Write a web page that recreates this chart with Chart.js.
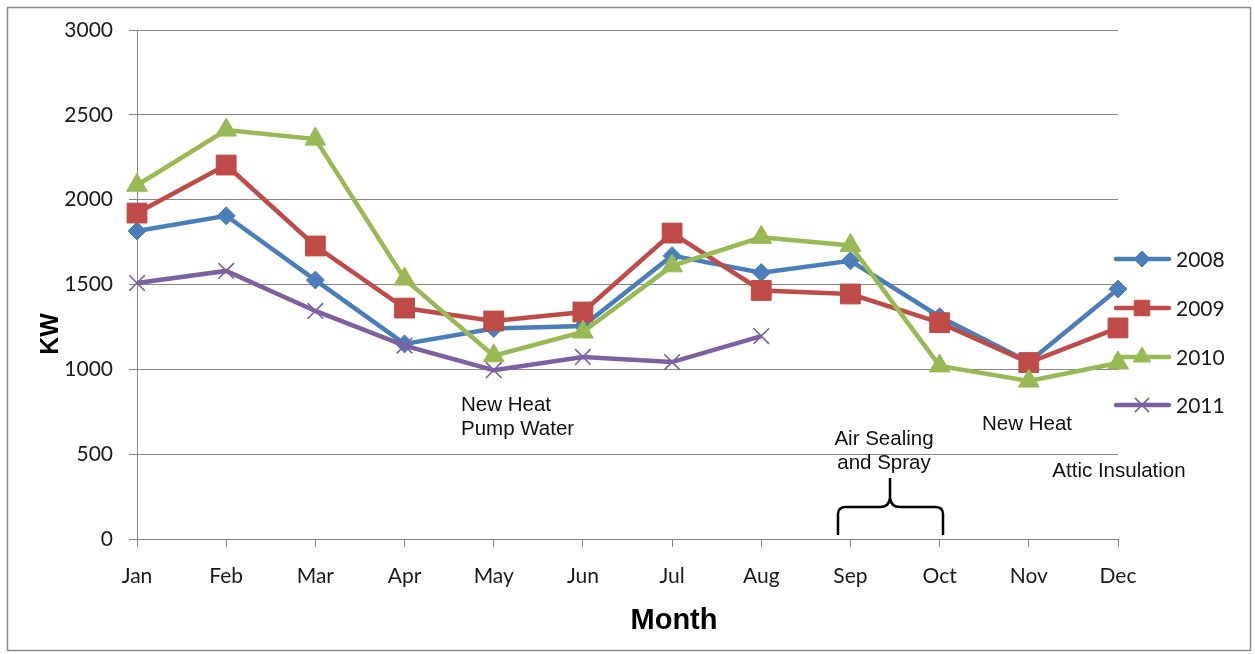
<!DOCTYPE html>
<html>
<head>
<meta charset="utf-8">
<script src="https://cdn.jsdelivr.net/npm/chart.js@4/dist/chart.umd.min.js"></script>
<style>
html,body{margin:0;padding:0;background:#fff;}
canvas{display:block;}
</style>
</head>
<body>
<canvas id="c" width="1255" height="654"></canvas>
<script>
const months = ['Jan','Feb','Mar','Apr','May','Jun','Jul','Aug','Sep','Oct','Nov','Dec'];
const seriesNames = ['2008','2009','2010','2011'];
const kw2008 = [1815, 1905, 1526, 1150, 1240, 1255, 1670, 1570, 1640, 1310, 1043, 1473];
const kw2009 = [1921, 2204, 1727, 1361, 1285, 1338, 1803, 1465, 1444, 1275, 1040, 1244];
const kw2010 = [2085, 2410, 2357, 1532, 1080, 1220, 1610, 1778, 1730, 1020, 931, 1037];
const kw2011 = [1509, 1580, 1344, 1140, 995, 1073, 1043, 1196, null, null, null, null];
const yTicks = [0, 500, 1000, 1500, 2000, 2500, 3000];
const notes = [
  {lines: ['New Heat', 'Pump Water'], x: 461, y: 405, align: 'left'},
  {lines: ['Air Sealing', 'and Spray'], x: 884, y: 439, align: 'center'},
  {lines: ['New Heat'], x: 1027, y: 424, align: 'center'},
  {lines: ['Attic Insulation'], x: 1119, y: 471, align: 'center'}
];

const colors = ['#4a7ebb', '#be4b48', '#98b954', '#7d60a0'];
const styles = ['rectRot', 'rect', 'triangle', 'crossRot'];
const radii = [9, 14, 12, 11];
const legendRadii = [8, 11, 10, 10];
const allData = [kw2008, kw2009, kw2010, kw2011];

const datasets = allData.map((d, i) => ({
  label: seriesNames[i],
  data: d,
  borderColor: colors[i],
  backgroundColor: colors[i],
  borderWidth: 4.5,
  pointStyle: styles[i],
  pointRadius: radii[i],
  pointHoverRadius: radii[i],
  pointBackgroundColor: colors[i],
  pointBorderColor: colors[i],
  pointBorderWidth: i === 3 ? 1.6 : 1,
  tension: 0,
  spanGaps: false,
  order: 3 - i
}));

const extras = {
  id: 'extras',
  afterDraw(chart) {
    const ctx = chart.ctx;
    ctx.save();
    // outer border
    ctx.strokeStyle = '#8c8c8c';
    ctx.lineWidth = 1.5;
    ctx.strokeRect(7.5, 7.5, 1243, 643);
    // legend
    const ly = [259, 308, 357, 405];
    chart.data.datasets.forEach((ds, i) => {
      const y = ly[i];
      ctx.strokeStyle = ds.borderColor;
      ctx.lineWidth = 4.5;
      ctx.lineCap = 'round';
      ctx.beginPath(); ctx.moveTo(1116, y); ctx.lineTo(1169, y); ctx.stroke();
      ctx.lineCap = 'butt';
      ctx.fillStyle = ds.pointBackgroundColor;
      ctx.strokeStyle = ds.pointBorderColor;
      ctx.lineWidth = ds.pointBorderWidth;
      Chart.helpers.drawPoint(ctx, {pointStyle: ds.pointStyle, radius: legendRadii[i], borderWidth: ds.pointBorderWidth, rotation: 0}, 1142, y);
      ctx.fillStyle = '#1a1a1a';
      ctx.font = '21px Lato, "Open Sans", sans-serif';
      ctx.textAlign = 'left';
      ctx.textBaseline = 'middle';
      ctx.fillText(ds.label, 1176, y + 1);
    });
    // axis titles
    ctx.fillStyle = '#000';
    ctx.font = 'bold 29px "Liberation Sans", Arial, sans-serif';
    ctx.textAlign = 'center';
    ctx.textBaseline = 'middle';
    ctx.fillText('Month', 674, 621);
    ctx.save();
    ctx.translate(51, 334);
    ctx.rotate(-Math.PI / 2);
    ctx.font = 'bold 25px "Liberation Sans", Arial, sans-serif';
    ctx.fillText('KW', 0, 0);
    ctx.restore();
    // notes
    ctx.font = '20.5px "Liberation Sans", Arial, sans-serif';
    ctx.fillStyle = '#111';
    notes.forEach(n => {
      ctx.textAlign = n.align;
      n.lines.forEach((t, k) => ctx.fillText(t, n.x, n.y + k * 24));
    });
    // brace
    ctx.strokeStyle = '#000';
    ctx.lineWidth = 2.5;
    ctx.beginPath();
    ctx.moveTo(838, 535);
    ctx.lineTo(838, 514);
    ctx.quadraticCurveTo(838, 507, 846, 507);
    ctx.lineTo(880, 507);
    ctx.quadraticCurveTo(889, 507, 890, 498);
    ctx.lineTo(890, 478);
    ctx.moveTo(890, 498);
    ctx.quadraticCurveTo(891, 507, 900, 507);
    ctx.lineTo(935, 507);
    ctx.quadraticCurveTo(943, 507, 943, 514);
    ctx.lineTo(943, 535);
    ctx.stroke();
    ctx.restore();
  }
};

new Chart(document.getElementById('c'), {
  type: 'line',
  data: {labels: months, datasets: datasets},
  options: {
    responsive: false,
    devicePixelRatio: 1,
    animation: false,
    layout: {padding: {left: 0, right: 137, top: 30, bottom: 0}},
    plugins: {legend: {display: false}, tooltip: {enabled: false}},
    scales: {
      x: {
        offset: false,
        grid: {display: true, drawOnChartArea: false, drawTicks: true, tickLength: 8, color: '#868686', lineWidth: 1},
        border: {display: true, color: '#868686', width: 1},
        ticks: {color: '#1a1a1a', font: {family: 'Lato, "Open Sans", sans-serif', size: 21}, padding: 17, maxRotation: 0, autoSkip: false},
        afterFit(s) { s.height = 115; }
      },
      y: {
        min: 0, max: 3000,
        afterBuildTicks(s) { s.ticks = yTicks.map(v => ({value: v})); },
        grid: {display: true, drawOnChartArea: true, drawTicks: true, tickLength: 8, color: '#868686', lineWidth: 1},
        border: {display: true, color: '#868686', width: 1},
        ticks: {color: '#1a1a1a', font: {family: 'Lato, "Open Sans", sans-serif', size: 21}, padding: 16, callback: v => String(v)},
        afterFit(s) { s.width = 137; }
      }
    }
  },
  plugins: [extras]
});
</script>
</body>
</html>
